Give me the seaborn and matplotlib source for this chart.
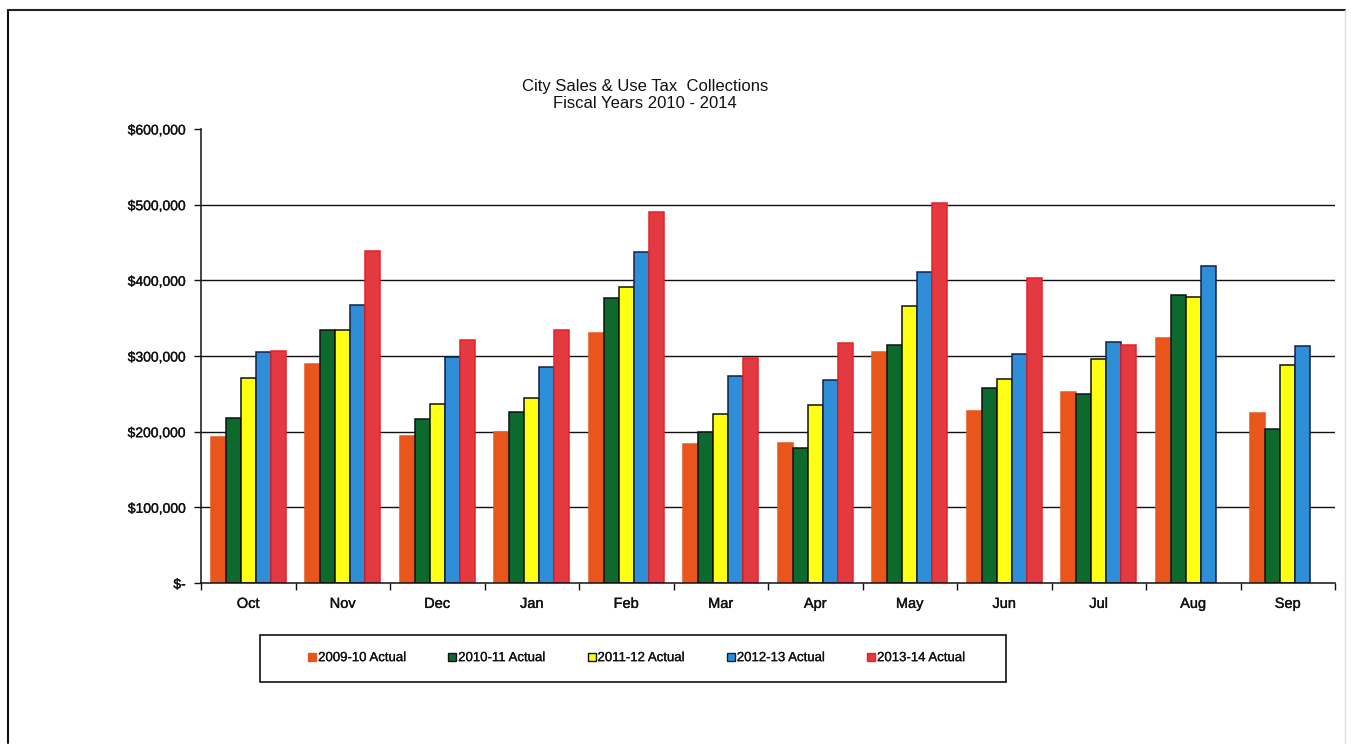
import numpy as np
import pandas as pd
import matplotlib
matplotlib.use("Agg")
import matplotlib.pyplot as plt
import matplotlib.patheffects as pe
import seaborn as sns
from matplotlib.ticker import FuncFormatter, FixedLocator
from matplotlib.patches import Rectangle
from matplotlib.lines import Line2D

# Monthly collections by fiscal year
months = ["Oct", "Nov", "Dec", "Jan", "Feb", "Mar", "Apr", "May", "Jun", "Jul", "Aug", "Sep"]
series_names = ["2009-10 Actual", "2010-11 Actual", "2011-12 Actual", "2012-13 Actual", "2013-14 Actual"]
fy2009_10 = [193000, 289000, 194000, 199000, 330000, 184000, 185000, 305000, 227000, 252000, 324000, 225000]
fy2010_11 = [218000, 334000, 217000, 226000, 376000, 199000, 178000, 314000, 258000, 250000, 381000, 203000]
fy2011_12 = [271000, 334000, 237000, 245000, 391000, 223000, 235000, 366000, 270000, 296000, 378000, 288000]
fy2012_13 = [305000, 367000, 299000, 286000, 438000, 273000, 268000, 411000, 303000, 318000, 419000, 313000]
fy2013_14 = [306000, 439000, 321000, 334000, 490000, 298000, 317000, 502000, 403000, 315000, np.nan, np.nan]
y_ticks = [0, 100000, 200000, 300000, 400000, 500000, 600000]

bar_colors = ["#E8561C", "#0B6A2C", "#FFFF14", "#2E8FD8", "#E23A40"]
edge_colors = ["#E8561C", "#111111", "#111111", "#10204A", "#E8202A"]

records = []
for name, vals in zip(series_names, [fy2009_10, fy2010_11, fy2011_12, fy2012_13, fy2013_14]):
    for m, v in zip(months, vals):
        records.append({"Month": m, "Series": name, "Amount": v})
df = pd.DataFrame(records)

sns.set_theme(style="white")
plt.rcParams["font.family"] = ["Liberation Sans", "DejaVu Sans"]

W, H = 1351, 745
fig = plt.figure(figsize=(W / 100, H / 100), dpi=100)
ax = fig.add_axes([201 / W, 1 - 583 / H, (1335 - 201) / W, (583 - 129) / H])

sns.barplot(data=df, x="Month", y="Amount", hue="Series", order=months,
            hue_order=series_names, palette=bar_colors, width=0.79,
            errorbar=None, legend=False, ax=ax, saturation=1)

for cont, ec in zip(ax.containers, edge_colors):
    for p in cont.patches:
        p.set_edgecolor(ec)
        p.set_linewidth(1.1)
        p.set_zorder(3)

ax.set_ylim(0, 600000)
ax.set_xlim(-0.5, len(months) - 0.5)
ax.yaxis.set_major_locator(FixedLocator(y_ticks))
ax.yaxis.set_major_formatter(FuncFormatter(lambda v, _: "$-" if v == 0 else f"${v:,.0f}"))
for t in y_ticks[1:-1]:
    ax.axhline(t, color="#111111", lw=1.0, zorder=1)
ax.grid(False)

ax.set_xlabel("")
ax.set_ylabel("")
for s in ["top", "right"]:
    ax.spines[s].set_visible(False)
for s in ["left", "bottom"]:
    ax.spines[s].set_color("#111111")
    ax.spines[s].set_linewidth(1.1)
    ax.spines[s].set_zorder(4)

ax.tick_params(axis="y", which="major", left=True, length=5, width=1, color="#111111",
               labelsize=10, pad=6, labelcolor="#111111")
ax.tick_params(axis="x", which="major", bottom=False, labelsize=10.5, pad=4, labelcolor="#111111")
ax.set_xticks(np.arange(-0.5, len(months), 1.0), minor=True)
ax.tick_params(axis="x", which="minor", bottom=True, length=5, width=1, color="#111111")

heavy = [pe.withStroke(linewidth=0.25, foreground="#111111")]
for lbl in ax.get_xticklabels() + ax.get_yticklabels():
    lbl.set_path_effects(heavy)

fig.text(645 / W, 1 - 95 / H, "City Sales & Use Tax  Collections\nFiscal Years 2010 - 2014",
         ha="center", va="center", fontsize=12, color="#111111", linespacing=1.15)

# Legend in a framed box below the plot
handles = [Line2D([0], [0], marker="s", linestyle="none", markersize=6,
                  markerfacecolor=c, markeredgecolor=e, markeredgewidth=1.0)
           for c, e in zip(bar_colors, edge_colors)]
leg = fig.legend(handles, series_names, loc="center", bbox_to_anchor=(637 / W, 1 - 658 / H),
                 ncol=5, frameon=False, fontsize=9.5, handlelength=0.6, handletextpad=0.15,
                 columnspacing=3.15)
for txt in leg.get_texts():
    txt.set_color("#111111")
    txt.set_path_effects([pe.withStroke(linewidth=0.2, foreground="#111111")])
fig.add_artist(Rectangle((260 / W, 1 - 682 / H), (1006 - 260) / W, (682 - 635) / H,
                         transform=fig.transFigure, fill=False, edgecolor="#111111", lw=1.2))

# Page frame
fig.add_artist(Line2D([8 / W, 8 / W], [2 / H, 1 - 10 / H], transform=fig.transFigure,
                      color="#111111", lw=1.5))
fig.add_artist(Line2D([8 / W, 1345 / W], [1 - 10 / H, 1 - 10 / H], transform=fig.transFigure,
                      color="#222222", lw=1.5))
fig.add_artist(Line2D([1345 / W, 1345 / W], [2 / H, 1 - 10 / H], transform=fig.transFigure,
                      color="#DDDDDD", lw=1.0))

fig.savefig("out.png", dpi=100)
